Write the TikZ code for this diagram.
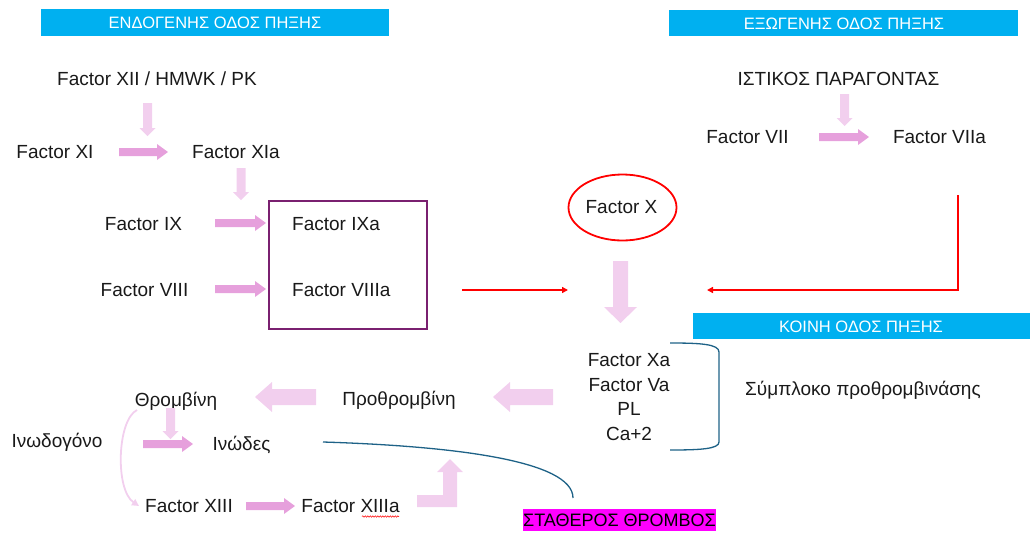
\documentclass[tikz,border=0pt]{standalone}
\usepackage{fontspec}
\setmainfont{Liberation Sans}
\usetikzlibrary{arrows.meta,decorations.pathmorphing}
\definecolor{barblue}{RGB}{0,176,240}
\definecolor{dpink}{RGB}{230,160,220}
\definecolor{lpink}{RGB}{242,207,238}
\definecolor{boxpurple}{RGB}{122,32,112}
\definecolor{curveblue}{RGB}{30,98,135}
\definecolor{hlmag}{RGB}{255,0,255}
\newcommand\fs{\fontsize{19}{23}\selectfont}
\newcommand\bs{\fontsize{16.5}{20}\selectfont}
% right arrow: x1, x2(tip), y
\newcommand\RArr[3]{\fill[dpink] (#1,#3-4) -- (#2-11,#3-4) -- (#2-11,#3-8) -- (#2,#3) -- (#2-11,#3+8) -- (#2-11,#3+4) -- (#1,#3+4) -- cycle;}
% small down arrow: x, y1, y2(tip)
\newcommand\DArr[3]{\fill[lpink] (#1-4.5,#2) -- (#1+4.5,#2) -- (#1+4.5,#3-8) -- (#1+8,#3-8) -- (#1,#3) -- (#1-8,#3-8) -- (#1-4.5,#3-8) -- cycle;}
% big left arrow: x1(tip), x2, y
\newcommand\LArr[3]{\fill[lpink] (#1,#3) -- (#1+17,#3-15) -- (#1+17,#3-8) -- (#2,#3-8) -- (#2,#3+8) -- (#1+17,#3+8) -- (#1+17,#3+15) -- cycle;}
\begin{document}
\begin{tikzpicture}[x=1pt,y=-1pt,
  txt/.style={anchor=base, inner sep=0pt, font=\fs, text=black!90},
  lefttxt/.style={anchor=base west, inner sep=0pt, font=\fs, text=black!90},
  bar/.style={fill=barblue, draw=none, inner sep=0pt, text=white, font=\bs},
  redarr/.style={draw=red, line width=1.5pt, -{Triangle[length=6pt,width=6pt]}},
  bracketline/.style={draw=curveblue, line width=1.3pt}]
\useasboundingbox (0,0) rectangle (1030,536);

% header bars
\fill[barblue] (41,9) rectangle (389,36);
\node[txt, text=white, font=\bs] (endo) at (215,28) {ΕΝΔΟΓΕΝΗΣ ΟΔΟΣ ΠΗΞΗΣ};
\fill[barblue] (669,10) rectangle (1018,36);
\node[txt, text=white, font=\bs] (exo) at (844,29) {ΕΞΩΓΕΝΗΣ ΟΔΟΣ ΠΗΞΗΣ};
\fill[barblue] (693,313) rectangle (1030,339);
\node[txt, text=white, font=\bs] (koini) at (861,332) {ΚΟΙΝΗ ΟΔΟΣ ΠΗΞΗΣ};

% intrinsic pathway
\node[txt] (f12) at (157,85) {Factor XII / HMWK / PK};
\DArr{147.5}{103}{136}
\node[txt] (f11) at (55,158) {Factor XI};
\RArr{119}{168}{152}
\node[txt] (f11a) at (236,158) {Factor XIa};
\DArr{241}{168}{200}
\node[txt] (f9) at (143.5,230) {Factor IX};
\RArr{215}{266}{223}
\node[txt] (f8) at (144.5,296) {Factor VIII};
\RArr{215}{266}{289}
\node[draw=boxpurple, line width=1.6pt, minimum width=158pt, minimum height=128pt, inner sep=0pt] (box) at (348,265) {};
\node[lefttxt] (f9a) at (292,230) {Factor IXa};
\node[lefttxt] (f8a) at (292,296) {Factor VIIIa};
\draw[redarr] (462,290) -- (568,290);

% extrinsic pathway
\node[txt] (tf) at (838.5,85) {ΙΣΤΙΚΟΣ ΠΑΡΑΓΟΝΤΑΣ};
\DArr{844.5}{94}{126}
\node[txt] (f7) at (747.5,143) {Factor VII};
\RArr{819}{869}{137}
\node[txt] (f7a) at (939.5,143) {Factor VIIa};
\draw[redarr] (958,195) -- (958,290) -- (707,290);

% factor X
\draw[red, line width=1.8pt] (622.5,207.5) ellipse [x radius=54pt, y radius=33pt];
\node[txt] (fx) at (621.5,213) {Factor X};
\fill[lpink] (613,261) -- (628,261) -- (628,307) -- (637,307) -- (620.5,323) -- (604,307) -- (613,307) -- cycle;

% prothrombinase complex
\node[txt] (fxa) at (629,366) {Factor Xa};
\node[txt] (fva) at (629,391) {Factor Va};
\node[txt] (pl) at (629,415) {PL};
\node[txt] (ca) at (629,440) {Ca+2};
\draw[bracketline] (670,343) .. controls (700,343) and (719,344) .. (719,352) -- (719,442) .. controls (719,449) and (700,450) .. (670,450);
\node[lefttxt] (compl) at (745,395) {Σύμπλοκο προθρομβινάσης};

% common pathway
\LArr{493}{553}{397}
\node[txt] (prothr) at (399,405) {Προθρομβίνη};
\LArr{255}{316}{397}
\node[txt] (thr) at (176,406) {Θρομβίνη};
\node[txt] (fib) at (57,447) {Ινωδογόνο};
\DArr{170.5}{408}{439}
\RArr{143}{193}{444}
\node[txt] (fibrin) at (241.5,450) {Ινώδες};
\draw[lpink, line width=1.8pt, -{Triangle[length=7pt,width=7pt]}] (137,410) .. controls (117,420) and (115,490) .. (139,506);
\node[txt] (f13) at (189,512) {Factor XIII};
\RArr{246}{295}{506}
\node[txt] (f13a) at (350.5,512) {Factor XIIIa};
\draw[red, line width=0.5pt, decorate, decoration={snake, amplitude=0.7pt, segment length=2.5pt}] (362,516.5) -- (399,516.5);
\fill[lpink] (417,495) -- (443,495) -- (443,472) -- (437,472) -- (450,459) -- (463,472) -- (457,472) -- (457,507) -- (417,507) -- cycle;
\draw[curveblue, line width=1.3pt] (323,442) .. controls (450,446) and (573,460) .. (573,498);
\node[fill=hlmag, inner sep=0pt, minimum width=193pt, minimum height=22pt, font=\fontsize{18}{21}\selectfont, text=black] (stable) at (619.5,520) {ΣΤΑΘΕΡΟΣ ΘΡΟΜΒΟΣ};
\end{tikzpicture}
\end{document}
